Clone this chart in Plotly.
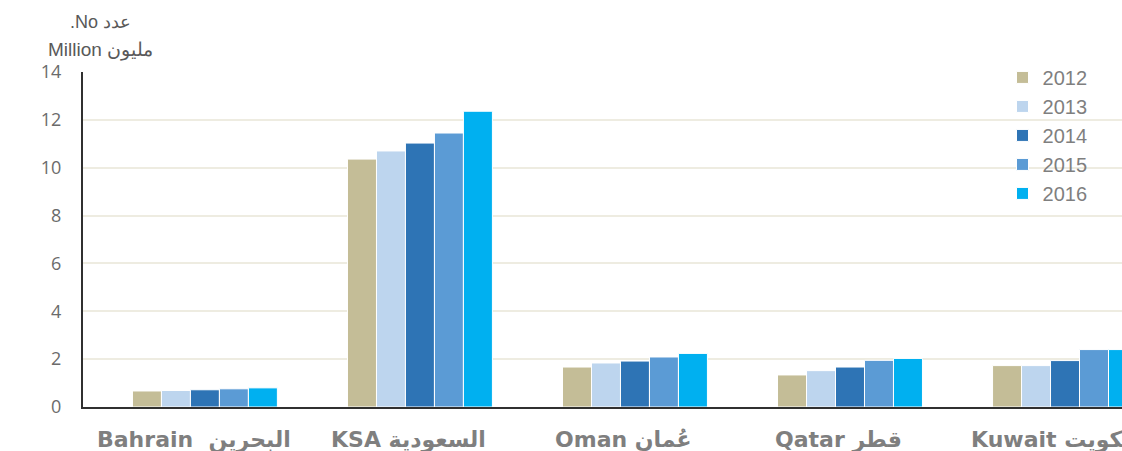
import plotly.graph_objects as go

categories = ["Bahrain  البحرين", "KSA السعودية", "Oman عُمان", "Qatar قطر", "Kuwait الكويت"]
years = ["2012", "2013", "2014", "2015", "2016"]
v2012 = [0.67, 10.36, 1.67, 1.34, 1.73]
v2013 = [0.69, 10.70, 1.84, 1.52, 1.73]
v2014 = [0.72, 11.03, 1.92, 1.67, 1.94]
v2015 = [0.76, 11.45, 2.09, 1.95, 2.40]
v2016 = [0.80, 12.36, 2.24, 2.03, 2.40]
series = [v2012, v2013, v2014, v2015, v2016]
colors = ["#C4BD97", "#BDD5EE", "#2E74B5", "#5B9BD5", "#00B0F0"]

fig = go.Figure()
for y, vals, c in zip(years, series, colors):
    fig.add_trace(go.Bar(
        x=list(range(len(categories))), y=vals, name=y,
        marker=dict(color=c, line=dict(color="white", width=1)),
    ))

cat_labels = [
    dict(text="<b>" + name + "</b>", x=i, xref="x", y=-0.0985, yref="paper",
         xanchor="center", yanchor="middle", xshift=-11, showarrow=False,
         font=dict(size=22, color="#7F7F7F", family="DejaVu Sans, Arial, sans-serif"))
    for i, name in enumerate(categories)
]

fig.update_layout(
    width=1122, height=451,
    margin=dict(l=83, r=0, t=72, b=44, autoexpand=False),
    paper_bgcolor="white", plot_bgcolor="white",
    barmode="group", bargap=0.326, bargroupgap=0,
    font=dict(family="Arial, Liberation Sans, sans-serif", color="#595959"),
    legend=dict(
        x=0.885, y=1.042, xanchor="left", yanchor="top",
        font=dict(size=20, color="#7F7F7F"),
        bgcolor="rgba(0,0,0,0)", itemwidth=30, tracegroupgap=0,
    ),
    xaxis=dict(
        range=[-0.567, 4.265], showgrid=False, automargin=False,
        showline=True, linecolor="#303030", linewidth=2,
        showticklabels=False, ticks="",
    ),
    yaxis=dict(
        range=[0, 14], dtick=2, showgrid=True, gridcolor="#EEECE1", gridwidth=2,
        showline=True, linecolor="#303030", linewidth=2, automargin=False,
        tickfont=dict(size=18, color="#6B6B6B", family="Open Sans, Arial, sans-serif"),
        ticklabelstandoff=16, zeroline=False,
    ),
    annotations=cat_labels + [
        dict(text=".No عدد", xref="paper", yref="paper",
             x=0.0164, y=1.149, xanchor="center", yanchor="middle", showarrow=False,
             font=dict(size=18, color="#595959")),
        dict(text="Million مليون", xref="paper", yref="paper",
             x=0.0164, y=1.066, xanchor="center", yanchor="middle", showarrow=False,
             font=dict(size=19, color="#595959")),
    ],
)

fig.write_html("out.html", config={"displayModeBar": False},
               post_script="document.body.style.margin='0';document.body.style.overflow='hidden';")
